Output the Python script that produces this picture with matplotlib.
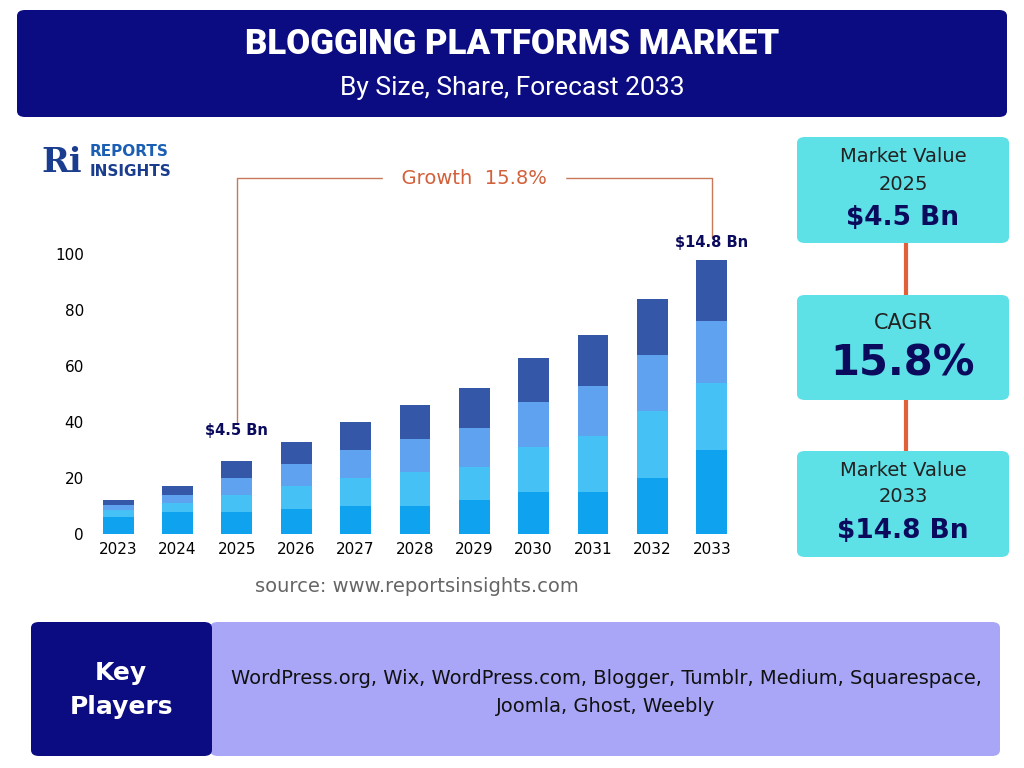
import matplotlib.pyplot as plt
from matplotlib.patches import FancyBboxPatch

years = ['2023', '2024', '2025', '2026', '2027', '2028', '2029', '2030', '2031', '2032', '2033']
seg1 = [6, 8, 8, 9, 10, 10, 12, 15, 15, 20, 30]
seg2 = [2.5, 3, 6, 8, 10, 12, 12, 16, 20, 24, 24]
seg3 = [2, 3, 6, 8, 10, 12, 14, 16, 18, 20, 22]
seg4 = [1.5, 3, 6, 8, 10, 12, 14, 16, 18, 20, 22]
colors = ['#0ea2ef', '#46c1f6', '#5fa2f0', '#3457a8']
yticks = [0, 20, 40, 60, 80, 100]

W, H = 1024, 768
fig = plt.figure(figsize=(W / 100, H / 100), dpi=100)
fig.patch.set_facecolor('white')

def box(x0, y0, x1, y1, fc, r=8):
    # pixel coords, top-left origin
    p = FancyBboxPatch((x0 / W, 1 - y1 / H), (x1 - x0) / W, (y1 - y0) / H,
                       boxstyle=f"round,pad=0,rounding_size={r / W}",
                       transform=fig.transFigure, fc=fc, ec='none', zorder=0)
    fig.add_artist(p)

def txt(x, y, s, **kw):
    fig.text(x / W, 1 - y / H, s, ha='center', va='center', **kw)

# title
box(17, 10, 1007, 117, '#0b0b82')
txt(512, 45, 'BLOGGING PLATFORMS MARKET', color='white', fontsize=25, fontweight='black', family='Roboto')
txt(512, 88, 'By Size, Share, Forecast 2033', color='white', fontsize=19, family='Roboto')

# logo
txt(62, 162, 'Ri', color='#1a3d8f', fontsize=24, fontweight='bold', family='DejaVu Serif')
fig.text(90 / W, 1 - 152 / H, 'REPORTS', color='#1a5fb4', fontsize=11, fontweight='bold', va='center')
fig.text(90 / W, 1 - 172 / H, 'INSIGHTS', color='#1a3d8f', fontsize=11, fontweight='bold', va='center')

# chart
ax = fig.add_axes([95 / W, 1 - 534 / H, 650 / W, 304 / H])
x = range(len(years))
bottom = [0] * len(years)
for seg, c in zip([seg1, seg2, seg3, seg4], colors):
    ax.bar(x, seg, bottom=bottom, color=c, width=0.52, zorder=2)
    bottom = [b + s for b, s in zip(bottom, seg)]
ax.set_ylim(0, 108.6)
ax.set_xlim(-0.39, len(years) - 0.44)
ax.set_yticks(yticks)
ax.set_xticks(list(x))
ax.set_xticklabels(years)
for s in ax.spines.values():
    s.set_visible(False)
ax.tick_params(length=0, labelsize=11, pad=6)
ax.tick_params(axis='y', pad=8)
ax.patch.set_alpha(0)

ax.text(2, 37, '$4.5 Bn', ha='center', va='center', fontsize=10.5,
        fontweight='bold', color='#0b0b5e')
ax.text(10, 104, '$14.8 Bn', ha='center', va='center', fontsize=10.5, fontweight='bold', color='#0b0b5e')
lc = '#c9785a'
ax.plot([2, 2, 10, 10], [39.5, 127, 127, 106], color=lc, lw=1, clip_on=False)
ax.text(6, 127, '  Growth  15.8%  ', ha='center', va='center', fontsize=14, color='#d2603a',
        backgroundcolor='white', zorder=5)
txt(417, 587, 'source: www.reportsinsights.com', color='#666666', fontsize=14)

# right panels
fig.add_artist(plt.Line2D([906 / W, 906 / W], [1 - 240 / H, 1 - 455 / H], color='#e0603a', lw=3, zorder=0))
cy = '#5de0e6'
box(797, 137, 1009, 243, cy)
txt(903, 157, 'Market Value', fontsize=14, color='#222222')
txt(903, 184, '2025', fontsize=14, color='#222222')
txt(903, 218, '$4.5 Bn', fontsize=19, fontweight='bold', color='#0b0b5e')
box(797, 295, 1009, 400, cy)
txt(903, 323, 'CAGR', fontsize=15, color='#222222')
txt(903, 364, '15.8%', fontsize=30, fontweight='bold', color='#0b0b5e')
box(797, 451, 1009, 557, cy)
txt(903, 470, 'Market Value', fontsize=14, color='#222222')
txt(903, 496, '2033', fontsize=14, color='#222222')
txt(903, 531, '$14.8 Bn', fontsize=19, fontweight='bold', color='#0b0b5e')

# key players
box(210, 622, 1000, 756, '#a9a6f7')
box(31, 622, 212, 756, '#0b0b82')
txt(121, 673, 'Key', fontsize=18, fontweight='bold', color='white')
txt(121, 707, 'Players', fontsize=18, fontweight='bold', color='white')
txt(606, 678, 'WordPress.org, Wix, WordPress.com, Blogger, Tumblr, Medium, Squarespace,', fontsize=14, color='#111111')
txt(606, 706, 'Joomla, Ghost, Weebly', fontsize=14, color='#111111')

fig.savefig('out.png', dpi=100)
